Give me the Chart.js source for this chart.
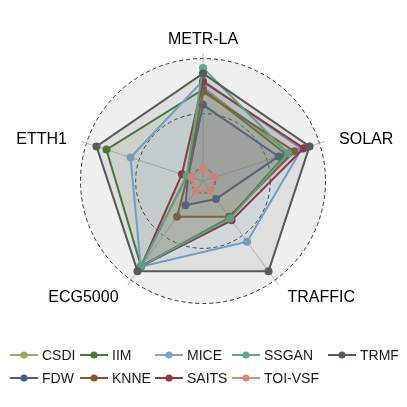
<!DOCTYPE html>
<html>
<head>
<meta charset="utf-8">
<script src="https://cdn.jsdelivr.net/npm/chart.js@4/dist/chart.umd.min.js"></script>
<style>
  html, body { margin: 0; padding: 0; background: #ffffff; }
  #wrap { position: relative; width: 407px; height: 407px; overflow: hidden; }
  #c { position: absolute; left: 0; top: 0; }
  .lg { position: absolute; height: 16px; display: flex; align-items: center;
        font-family: "Liberation Sans", Arial, Helvetica, sans-serif; font-size: 14px; color: #1a1a1a; white-space: nowrap; }
  .lg svg { display: block; margin-right: 4px; }
</style>
</head>
<body>
<div id="wrap">
  <canvas id="c" width="407" height="407"></canvas>
</div>
<script>
// ---- data ----
const categories = ['METR-LA', 'SOLAR', 'TRAFFIC', 'ECG5000', 'ETTH1'];
const seriesNames = ['CSDI', 'FDW', 'IIM', 'KNNE', 'MICE', 'SAITS', 'SSGAN', 'TOI-VSF', 'TRMF'];
const seriesColors = ['#a8a45e', '#475a96', '#4a7a37', '#845a2c', '#78a6d0', '#923746', '#5fa88c', '#d88c80', '#555c55'];
const CSDI    = [0.74, 0.71, 0.30, 0.84, 0.04];
const FDW     = [0.58, 0.61, 0.09, 0.16, 0.03];
const IIM     = [0.72, 0.68, 0.30, 0.845, 0.81];
const KNNE    = [0.70, 0.76, 0.29, 0.29, 0.035];
const MICE    = [0.80, 0.83, 0.57, 0.85, 0.58];
const SAITS   = [0.79, 0.85, 0.33, 0.845, 0.09];
const SSGAN   = [0.915, 0.70, 0.31, 0.84, 0.045];
const TOI_VSF = [0.01, 0.0, 0.0, 0.0, 0.0];
const TRMF    = [0.865, 0.905, 0.90, 0.90, 0.905];
const seriesValues = [CSDI, FDW, IIM, KNNE, MICE, SAITS, SSGAN, TOI_VSF, TRMF];
const gridValues = [0, 0.5, 1];
const centreValue = -0.1111;   // radar centre (grid.min - 1/9 of range)
const legendRows = [['CSDI', 'IIM', 'MICE', 'SSGAN', 'TRMF'], ['FDW', 'KNNE', 'SAITS', 'TOI-VSF']];

function hexA(hex, a) {
  const n = parseInt(hex.slice(1), 16);
  return 'rgba(' + ((n >> 16) & 255) + ',' + ((n >> 8) & 255) + ',' + (n & 255) + ',' + a + ')';
}

// datasets: first alphabetical drawn first (bottom), so reverse for Chart.js order
const datasets = seriesNames.map((name, i) => ({
  label: name,
  data: seriesValues[i],
  borderColor: seriesColors[i],
  backgroundColor: hexA(seriesColors[i], 0.11),
  pointBackgroundColor: seriesColors[i],
  pointBorderColor: seriesColors[i],
  pointBorderWidth: 0,
  pointRadius: 4,
  borderWidth: 2,
  fill: 'start'
})).reverse();

const bgCircle = {
  id: 'bgCircle',
  beforeDraw(chart) {
    const s = chart.scales.r;
    const ctx = chart.ctx;
    ctx.save();
    ctx.beginPath();
    ctx.arc(s.xCenter, s.yCenter, s.getDistanceFromCenterForValue(1), 0, Math.PI * 2);
    ctx.fillStyle = '#f0f0f0';
    ctx.fill();
    ctx.restore();
  }
};

const axisLabels = {
  id: 'axisLabels',
  afterDraw(chart) {
    const s = chart.scales.r;
    const ctx = chart.ctx;
    const dist = s.getDistanceFromCenterForValue(1.177);
    ctx.save();
    ctx.font = '16px "Liberation Sans", Arial, Helvetica, sans-serif';
    ctx.fillStyle = '#000000';
    ctx.textBaseline = 'middle';
    chart.data.labels.forEach((lab, i) => {
      const p = s.getPointPosition(i, dist);
      let align = 'center', dx = 0, dy = 0.5;
      if (p.x > s.xCenter + 5) { align = 'left'; dx = 1; dy = 2; }
      else if (p.x < s.xCenter - 5) { align = 'right'; dx = -1; dy = 2; }
      ctx.textAlign = align;
      ctx.fillText(lab, p.x + dx, p.y + dy);
    });
    ctx.restore();
  }
};

new Chart(document.getElementById('c'), {
  type: 'radar',
  data: { labels: categories, datasets: datasets },
  plugins: [bgCircle, axisLabels],
  options: {
    responsive: false,
    animation: false,
    layout: { padding: { left: 75, top: 53, right: 76, bottom: 98 } },
    plugins: { legend: { display: false }, tooltip: { enabled: false } },
    elements: { line: { tension: 0 } },
    scales: {
      r: {
        min: centreValue,
        max: 1.05,
        ticks: { display: false },
        pointLabels: { display: false },
        grid: { circular: true, color: '#333333', lineWidth: 1, borderDash: [4, 3] },
        border: { dash: [4, 3] },
        angleLines: { color: '#b8b8b8', lineWidth: 1 },
        afterBuildTicks(scale) { scale.ticks = gridValues.map(v => ({ value: v })); }
      }
    }
  }
});

// legend (two rows, aligned columns)
const colX = [10, 80, 155, 232, 328];
const rowY = [355, 378];
const wrap = document.getElementById('wrap');
legendRows.forEach((row, r) => {
  row.forEach((name, c) => {
    const i = seriesNames.indexOf(name);
    const col = seriesColors[i];
    const d = document.createElement('div');
    d.className = 'lg';
    d.style.left = colX[c] + 'px';
    d.style.top = (rowY[r] - 8) + 'px';
    d.innerHTML = '<svg width="28" height="12"><line x1="0" y1="6" x2="28" y2="6" stroke="' + col +
      '" stroke-width="2"/><circle cx="14" cy="6" r="3.6" fill="' + col + '"/></svg>';
    const t = document.createElement('span');
    t.textContent = name;
    d.appendChild(t);
    wrap.appendChild(d);
  });
});
</script>
</body>
</html>
